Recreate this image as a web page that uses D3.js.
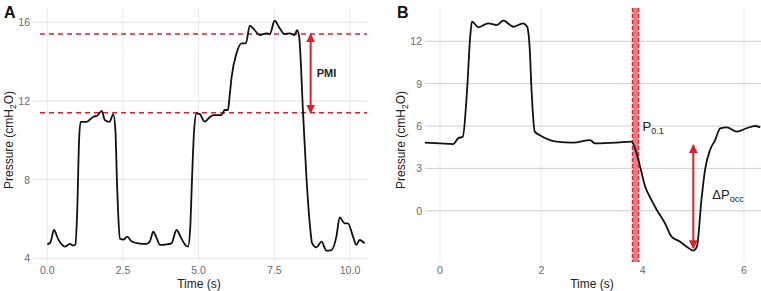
<!DOCTYPE html>
<html>
<head>
<meta charset="utf-8">
<script src="https://cdn.jsdelivr.net/npm/d3@7"></script>
<style>
  body { margin: 0; background: #fff; }
  svg { font-family: "Liberation Sans", Arial, sans-serif; }
</style>
</head>
<body>
<svg width="761" height="291"></svg>
<script>
// Panel A: PMI trace
const timeA = [0, 0.1, 0.22, 0.35, 0.48, 0.58, 0.75, 0.85, 0.93, 0.99, 1.05, 1.1, 1.3, 1.52, 1.65, 1.8, 1.9, 2.05, 2.18, 2.25, 2.3, 2.35, 2.4, 2.52, 2.64, 2.79, 3.0, 3.28, 3.4, 3.5, 3.62, 3.72, 3.9, 4.1, 4.27, 4.4, 4.55, 4.65, 4.72, 4.78, 4.85, 4.93, 5.04, 5.2, 5.35, 5.48, 5.75, 5.86, 5.97, 6.02, 6.09, 6.25, 6.42, 6.56, 6.69, 6.8, 7.02, 7.24, 7.35, 7.51, 7.68, 7.84, 8.01, 8.17, 8.25, 8.32, 8.45, 8.56, 8.67, 8.75, 8.89, 9.06, 9.22, 9.39, 9.55, 9.66, 9.82, 9.93, 10.1, 10.21, 10.32, 10.48];
const pressureA = [4.71, 4.8, 5.44, 5.0, 4.7, 4.59, 4.73, 4.65, 4.71, 6.5, 10.0, 10.94, 10.94, 11.2, 11.25, 11.5, 11.03, 10.94, 11.32, 10.5, 8.0, 6.0, 5.0, 4.95, 5.1, 4.85, 4.76, 4.73, 4.9, 5.35, 5.0, 4.68, 4.7, 4.76, 5.44, 5.1, 4.7, 4.59, 5.5, 8.0, 10.5, 11.37, 11.33, 10.95, 11.15, 11.28, 11.28, 11.54, 11.54, 12.2, 13.23, 14.42, 14.93, 14.93, 15.83, 15.69, 15.35, 15.44, 15.4, 16.08, 15.69, 15.4, 15.44, 15.35, 15.6, 15.27, 11.37, 8.15, 5.78, 4.76, 4.56, 4.85, 4.39, 4.42, 5.1, 6.08, 5.78, 5.78, 5.1, 4.68, 4.93, 4.76];
const ticksA_x = [0, 2.5, 5, 7.5, 10];
const ticksA_y = [4, 8, 12, 16];
const pmiLevels = [11.4, 15.4];
const pmiTime = 8.7;

// Panel B: P0.1 / occlusion trace
const timeB = [-0.3, 0, 0.26, 0.36, 0.45, 0.53, 0.6, 0.63, 0.76, 0.95, 1.12, 1.25, 1.45, 1.64, 1.72, 1.77, 1.81, 1.87, 1.97, 2.3, 2.63, 2.96, 3.06, 3.49, 3.78, 3.88, 3.95, 4.05, 4.14, 4.28, 4.44, 4.57, 4.74, 4.87, 5.0, 5.07, 5.16, 5.23, 5.33, 5.43, 5.53, 5.66, 5.86, 6.05, 6.22, 6.32];
const pressureB = [4.82, 4.77, 4.72, 5.13, 5.24, 8.3, 12.5, 13.39, 12.99, 13.27, 13.15, 13.46, 13.03, 13.27, 13.03, 11.5, 8.3, 5.6, 5.35, 4.9, 4.82, 5.0, 4.77, 4.82, 4.89, 4.06, 3.12, 1.7, 1.0, 0.05, -0.89, -1.84, -2.2, -2.55, -2.83, -2.55, 0.76, 2.88, 4.3, 5.0, 5.84, 5.9, 5.6, 5.84, 6.0, 5.9];
const ticksB_x = [0, 2, 4, 6];
const ticksB_y = [0, 3, 6, 9, 12];
const p01Band = [3.8, 3.92];
const occArrow = { t: 5.0, from: -2.66, to: 4.65 };

const svg = d3.select("svg");
const red = "#d9202c";

const defs = svg.append("defs");
["start", "end"].forEach(k => {
  defs.append("marker")
    .attr("id", "arr-" + k)
    .attr("viewBox", "0 0 10 10")
    .attr("refX", 9).attr("refY", 5)
    .attr("markerWidth", 4.5).attr("markerHeight", 4.5)
    .attr("orient", k === "start" ? "auto-start-reverse" : "auto")
    .append("path")
    .attr("d", "M0,0 L10,5 L0,10 z")
    .attr("fill", red);
});

const drawPanel = (cfg) => {
  const g = svg.append("g");
  const x = cfg.x, y = cfg.y;

  // gridlines
  g.selectAll(".gx").data(cfg.xticks).enter().append("line")
    .attr("x1", d => x(d)).attr("x2", d => x(d))
    .attr("y1", cfg.top).attr("y2", cfg.bottom)
    .attr("stroke", "#ebebeb").attr("stroke-width", 1);
  g.selectAll(".gy").data(cfg.yticks).enter().append("line")
    .attr("x1", cfg.left).attr("x2", cfg.right)
    .attr("y1", d => y(d)).attr("y2", d => y(d))
    .attr("stroke", cfg.hgrid).attr("stroke-width", 1);

  // tick labels
  g.selectAll(".tx").data(cfg.xticks).enter().append("text")
    .attr("x", d => x(d)).attr("y", 274)
    .attr("text-anchor", "middle")
    .attr("font-size", 10.5).attr("fill", "#6b6b6b")
    .text(cfg.xfmt);
  g.selectAll(".ty").data(cfg.yticks).enter().append("text")
    .attr("x", cfg.left - 3).attr("y", d => y(d) + 4)
    .attr("text-anchor", "end")
    .attr("font-size", 10.5).attr("fill", "#6b6b6b")
    .text(d => d);

  // axis titles
  g.append("text")
    .attr("x", cfg.xtitleX).attr("y", 288)
    .attr("text-anchor", "middle")
    .attr("font-size", 12).attr("fill", "#222")
    .text("Time (s)");
  const yt = g.append("text")
    .attr("transform", `translate(${cfg.ytitleX},${cfg.ytitleY}) rotate(-90)`)
    .attr("text-anchor", "middle")
    .attr("font-size", 12).attr("fill", "#222");
  yt.append("tspan").text("Pressure (cmH");
  yt.append("tspan").attr("font-size", 8.5).attr("dy", 3).text("2");
  yt.append("tspan").attr("dy", -3).text("O)");

  // panel letter
  g.append("text")
    .attr("x", cfg.letterX).attr("y", 18)
    .attr("font-size", 16).attr("font-weight", "bold").attr("fill", "#111")
    .text(cfg.letter);

  return g;
};

const line = (x, y) => d3.line()
  .x(d => x(d[0])).y(d => y(d[1]))
  .curve(d3.curveMonotoneX);

// ---- Panel A ----
const xA = d3.scaleLinear().domain([0, 10]).range([47.3, 350]);
const yA = d3.scaleLinear().domain([4, 16]).range([258.3, 22.3]);
const gA = drawPanel({
  x: xA, y: yA, xticks: ticksA_x, yticks: ticksA_y,
  left: 33, right: 367, top: 8, bottom: 262, hgrid: "#e3e3e3",
  xfmt: d => d.toFixed(1), xtitleX: 199, ytitleX: 13, ytitleY: 140,
  letter: "A", letterX: 4
});

gA.selectAll(".pmi").data(pmiLevels).enter().append("line")
  .attr("x1", 40).attr("x2", 367)
  .attr("y1", d => yA(d)).attr("y2", d => yA(d))
  .attr("stroke", red).attr("stroke-width", 1.5)
  .attr("stroke-dasharray", "5,4");

gA.append("path")
  .datum(d3.zip(timeA, pressureA))
  .attr("fill", "none").attr("stroke", "#111").attr("stroke-width", 1.8)
  .attr("d", line(xA, yA));

gA.append("line")
  .attr("x1", xA(pmiTime)).attr("x2", xA(pmiTime))
  .attr("y1", yA(pmiLevels[0])).attr("y2", yA(pmiLevels[1]))
  .attr("stroke", red).attr("stroke-width", 2)
  .attr("marker-start", "url(#arr-start)").attr("marker-end", "url(#arr-end)");

gA.append("text")
  .attr("x", xA(pmiTime) + 6).attr("y", yA((pmiLevels[0] + pmiLevels[1]) / 2) + 4)
  .attr("font-size", 11).attr("font-weight", "bold").attr("fill", "#222")
  .text("PMI");

// ---- Panel B ----
const xB = d3.scaleLinear().domain([0, 6]).range([440, 744]);
const yB = d3.scaleLinear().domain([0, 12]).range([210.7, 41.3]);
const gB = drawPanel({
  x: xB, y: yB, xticks: ticksB_x, yticks: ticksB_y,
  left: 425, right: 761, top: 8, bottom: 262, hgrid: "#cfcfcf",
  xfmt: d => d, xtitleX: 592, ytitleX: 405, ytitleY: 140,
  letter: "B", letterX: 397
});

gB.append("rect")
  .attr("x", xB(p01Band[0])).attr("y", 8)
  .attr("width", xB(p01Band[1]) - xB(p01Band[0])).attr("height", 254)
  .attr("fill", "#ee6b73").attr("opacity", 0.9);
gB.selectAll(".bandedge").data(p01Band).enter().append("line")
  .attr("x1", d => xB(d)).attr("x2", d => xB(d))
  .attr("y1", 8).attr("y2", 262)
  .attr("stroke", "#d42a36").attr("stroke-width", 1.5)
  .attr("stroke-dasharray", "4,2");

gB.append("path")
  .datum(d3.zip(timeB, pressureB))
  .attr("fill", "none").attr("stroke", "#111").attr("stroke-width", 1.8)
  .attr("d", line(xB, yB));

gB.append("line")
  .attr("x1", xB(occArrow.t)).attr("x2", xB(occArrow.t))
  .attr("y1", yB(occArrow.from)).attr("y2", yB(occArrow.to))
  .attr("stroke", red).attr("stroke-width", 2)
  .attr("marker-start", "url(#arr-start)").attr("marker-end", "url(#arr-end)");

const p01 = gB.append("text")
  .attr("x", xB(p01Band[1]) + 4).attr("y", yB(6) + 5)
  .attr("font-size", 13).attr("fill", "#222");
p01.append("tspan").text("P");
p01.append("tspan").attr("font-size", 9).attr("dy", 3).text("0.1");

const docc = gB.append("text")
  .attr("x", xB(occArrow.t) + 19).attr("y", yB(1) + 2)
  .attr("font-size", 13).attr("fill", "#222");
docc.append("tspan").text("ΔP");
docc.append("tspan").attr("font-size", 9).attr("dy", 3).text("occ");
</script>
</body>
</html>
